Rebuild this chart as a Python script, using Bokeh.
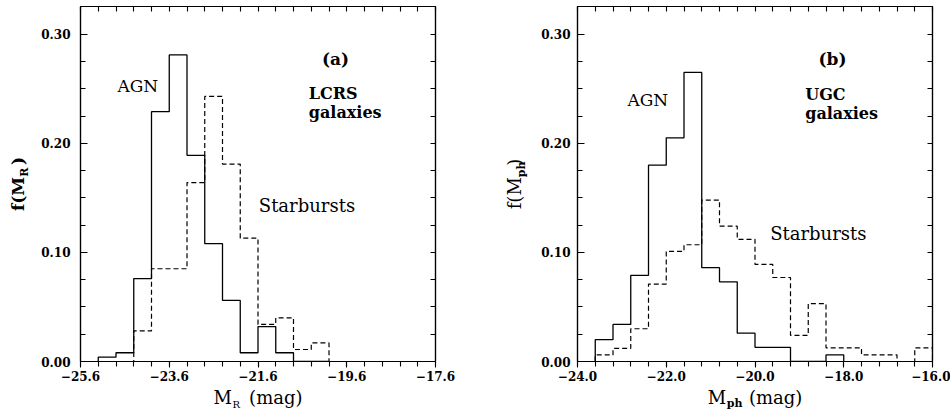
import numpy as np
from math import pi
from bokeh.plotting import figure
from bokeh.models import Range1d, LinearAxis, FixedTicker, CustomJSTickFormatter, Label
from bokeh.layouts import row
from bokeh.embed import file_html
from bokeh.resources import INLINE

# ---------------- data ----------------
bin_width = 0.4

# panel (a): LCRS galaxies, M_R
a_start = -25.2
a_agn = [0.004, 0.008, 0.076, 0.229, 0.281, 0.189, 0.108, 0.056, 0.008, 0.032, 0.008, 0.0, 0.0]
a_sb = [0.0, 0.0, 0.028, 0.085, 0.085, 0.164, 0.243, 0.181, 0.113, 0.034, 0.040, 0.011, 0.017]

# panel (b): UGC galaxies, M_ph
b_start = -23.6
b_agn = [0.020, 0.034, 0.079, 0.180, 0.205, 0.265, 0.086, 0.073, 0.026, 0.013, 0.013, 0.0, 0.0, 0.006]
b_sb = [0.006, 0.012, 0.030, 0.071, 0.101, 0.107, 0.148, 0.124, 0.112, 0.089, 0.077, 0.024, 0.053,
        0.0125, 0.0125, 0.006, 0.006, 0.0, 0.0125]

a_xrange = (-25.6, -17.6)
b_xrange = (-24.0, -16.0)
y_top = 0.3254

a_xticks = [-25.6, -23.6, -21.6, -19.6, -17.6]
a_xlabels = ["\u221225.6", "\u221223.6", "\u221221.6", "\u221219.6", "\u221217.6"]
b_xticks = [-24.0, -22.0, -20.0, -18.0, -16.0]
b_xlabels = ["\u221224.0", "\u221222.0", "\u221220.0", "\u221218.0", "\u221216.0"]
yticks = [0.0, 0.1, 0.2, 0.3]
ylabels = ["0.00", "0.10", "0.20", "0.30"]

NB = "\u00a0"
a_xtitle = "M" + NB * 3 + "(mag)"
a_ytitle = "f(M" + NB * 2 + ")"
b_xtitle = "M" + NB * 4 + "(mag)"
b_ytitle = "f(M" + NB * 2 + ")"

FONT = "DejaVu Serif"


def steps(start, vals):
    vals = np.asarray(vals, dtype=float)
    edges = start + bin_width * np.arange(len(vals) + 1)
    xs = np.repeat(edges, 2)
    ys = np.concatenate([[0.0], np.repeat(vals, 2), [0.0]])
    return xs, ys


def fmt(tvals, tlabels):
    return CustomJSTickFormatter(args=dict(tvals=tvals, tlabels=tlabels), code="""
        for (let i = 0; i < tvals.length; i++) {
            if (Math.abs(tvals[i] - tick) < 1e-6) return tlabels[i];
        }
        return '';
    """)


def make_panel(xr, xticks, xlabels, bl, br, ystand, xtitle, ytitle, ybold, ysize, ytstand):
    p = figure(frame_width=355, frame_height=355,
               x_range=Range1d(*xr), y_range=Range1d(0, y_top),
               output_backend="svg", toolbar_location=None,
               x_axis_location=None, y_axis_location=None,
               min_border_left=bl, min_border_right=br,
               min_border_top=6, min_border_bottom=50,
               background_fill_color="white", border_fill_color="white")
    p.xgrid.visible = False
    p.ygrid.visible = False
    p.outline_line_color = "black"
    p.outline_line_width = 1.2

    minor_x = [float(v) for v in np.round(np.arange(xr[0], xr[1] + 0.001, bin_width), 2)]
    minor_y = [float(v) for v in np.round(np.arange(0, y_top, 0.025), 3)]

    def axis_common(ax):
        ax.axis_line_color = "black"
        ax.axis_line_width = 1.2
        ax.major_tick_line_width = 1.1
        ax.minor_tick_line_width = 1.1
        ax.major_label_text_font = FONT
        ax.major_label_text_font_style = "bold"
        ax.major_label_text_font_size = "12px"
        ax.major_label_text_color = "black"
        ax.axis_label_text_font = FONT
        ax.axis_label_text_color = "black"

    bottom = LinearAxis(ticker=FixedTicker(ticks=xticks, minor_ticks=minor_x),
                        formatter=fmt(xticks, xlabels), axis_label=xtitle)
    axis_common(bottom)
    bottom.major_tick_in = 0
    bottom.major_tick_out = 6
    bottom.minor_tick_in = 0
    bottom.minor_tick_out = 5
    bottom.major_label_standoff = 3
    bottom.axis_label_standoff = 3
    bottom.axis_label_text_font_size = "18px"
    bottom.axis_label_text_font_style = "normal"
    p.add_layout(bottom, "below")

    # top and right: tick marks only (no labelled major ticks)
    top = LinearAxis(ticker=FixedTicker(ticks=[], minor_ticks=minor_x))
    axis_common(top)
    top.minor_tick_in = 5
    top.minor_tick_out = 0
    top.major_label_standoff = 0
    p.add_layout(top, "above")

    left = LinearAxis(ticker=FixedTicker(ticks=yticks, minor_ticks=minor_y),
                      formatter=fmt(yticks, ylabels), axis_label=ytitle)
    axis_common(left)
    left.major_tick_in = 7
    left.major_tick_out = 0
    left.minor_tick_in = 5
    left.minor_tick_out = 0
    left.major_label_standoff = ystand
    left.axis_label_standoff = ytstand
    left.axis_label_text_font_size = f"{ysize}px"
    left.axis_label_text_font_style = "bold" if ybold else "normal"
    p.add_layout(left, "left")

    right = LinearAxis(ticker=FixedTicker(ticks=[], minor_ticks=minor_y))
    axis_common(right)
    right.minor_tick_in = 5
    right.minor_tick_out = 0
    right.major_label_standoff = 0
    p.add_layout(right, "right")
    return p


def add_label(p, text, x, y, size, bold=False, align="left", baseline="alphabetic",
              angle=0.0, place="center"):
    lab = Label(x=x, y=y, text=text, text_font=FONT, text_font_size=f"{size}px",
                text_font_style="bold" if bold else "normal", text_align=align,
                text_baseline=baseline, angle=angle, text_color="black")
    if place == "center":
        p.add_layout(lab)
    else:
        p.add_layout(lab, place)


# pixel helpers (layout positions of annotations, relative to the frame)
def fx_a(px):
    return a_xrange[0] + (px - 80.0) / 44.375


def fx_b(px):
    return b_xrange[0] + (px - 577.3) / 44.375


def fy(py):
    return (360.7 - py) / 1090.0


# ---------------- panel (a) ----------------
pa = make_panel(a_xrange, a_xticks, a_xlabels, 80, 35, 10, a_xtitle, a_ytitle, True, 17, 10)
xs, ys = steps(a_start, a_sb)
pa.line(xs, ys, line_color="black", line_width=1.2, line_dash="5 3")
xs, ys = steps(a_start, a_agn)
pa.line(xs, ys, line_color="black", line_width=1.3)

add_label(pa, "(a)", fx_a(335), fy(58.3), 17, bold=True, align="center")
add_label(pa, "AGN", fx_a(117), fy(85), 17)
add_label(pa, "LCRS", fx_a(308.3), fy(92.7), 16, bold=True)
add_label(pa, "galaxies", fx_a(308.3), fy(111.7), 16, bold=True)
add_label(pa, "Starbursts", fx_a(258.3), fy(205), 18)
# subscripts of the axis titles
add_label(pa, "R", fx_a(232), fy(403.5), 10, place="right")
add_label(pa, "R", fx_a(24), fy(176), 11, bold=True, baseline="middle", angle=pi / 2, place="right")

# ---------------- panel (b) ----------------
pb = make_panel(b_xrange, b_xticks, b_xlabels, 107, 18, 7, b_xtitle, b_ytitle, False, 18, 13)
xs, ys = steps(b_start, b_sb)
pb.line(xs, ys, line_color="black", line_width=1.2, line_dash="5 3")
xs, ys = steps(b_start, b_agn)
pb.line(xs, ys, line_color="black", line_width=1.3)

add_label(pb, "(b)", fx_b(832.3), fy(58.3), 17, bold=True, align="center")
add_label(pb, "AGN", fx_b(627.3), fy(99), 17)
add_label(pb, "UGC", fx_b(805), fy(94.3), 16, bold=True)
add_label(pb, "galaxies", fx_b(805), fy(113.3), 16, bold=True)
add_label(pb, "Starbursts", fx_b(770), fy(233.3), 18)
# subscripts of the axis titles
add_label(pb, "ph", fx_b(726.5), fy(403), 11, bold=True, place="left")
add_label(pb, "ph", fx_b(521), fy(176.5), 11, bold=True, baseline="middle", angle=pi / 2, place="left")

layout = row(pa, pb)
open("out.html", "w").write(file_html(layout, INLINE))
